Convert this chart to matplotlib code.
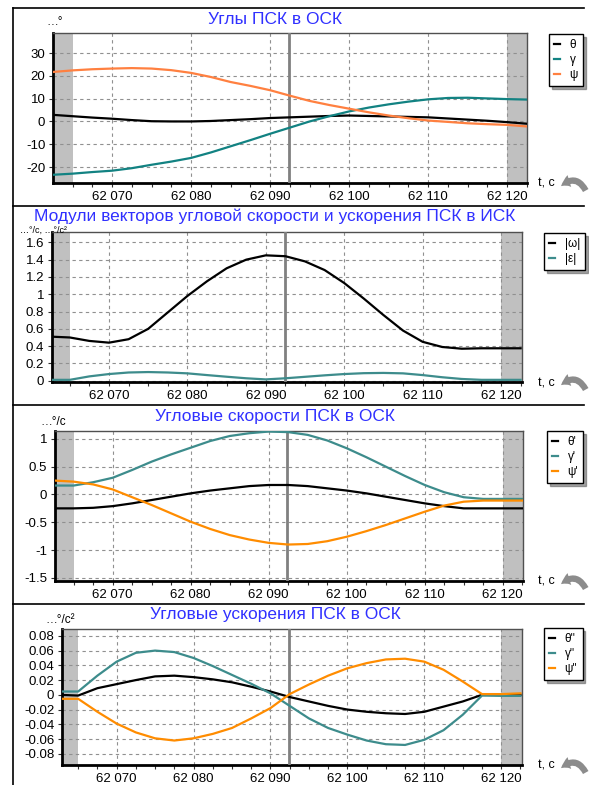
import numpy as np
import matplotlib
matplotlib.use("Agg")
import matplotlib.pyplot as plt
from matplotlib.ticker import FuncFormatter, MultipleLocator
from matplotlib.patches import FancyArrowPatch
from matplotlib.lines import Line2D

plt.rcParams['font.family'] = ['Liberation Sans', 'DejaVu Sans']

W, H = 589, 785
fig = plt.figure(figsize=(W / 100, H / 100), dpi=100)

# time grid (s)
t = [62062.5, 62065, 62067.5, 62070, 62072.5, 62075, 62077.5, 62080, 62082.5,
     62085, 62087.5, 62090, 62092.5, 62095, 62097.5, 62100, 62102.5, 62105,
     62107.5, 62110, 62112.5, 62115, 62117.5, 62120, 62122.5]
t_cursor = 62092.4
gray_left, gray_right = 62065, 62120

# angles, deg
theta = [2.9, 2.3, 1.7, 1.2, 0.6, 0.1, 0.0, 0.0, 0.2, 0.6, 1.0, 1.5, 1.8,
         2.1, 2.4, 2.6, 2.4, 2.2, 2.0, 1.8, 1.3, 0.8, 0.3, -0.3, -1.0]
gamma = [-23.4, -22.9, -22.2, -21.6, -20.5, -19.0, -17.6, -16.0, -13.6, -10.9,
         -8.2, -5.4, -2.7, 0.0, 2.3, 4.4, 6.1, 7.5, 8.7, 9.7, 10.3, 10.4, 10.1,
         9.8, 9.6]
psi = [21.7, 22.4, 22.9, 23.2, 23.4, 23.2, 22.5, 21.3, 19.5, 17.3, 15.6, 13.7,
       11.3, 9.0, 7.2, 5.6, 4.0, 2.6, 1.4, 0.4, -0.2, -0.8, -1.2, -1.5, -2.2]

# |omega|, |eps|
omega = [0.51, 0.50, 0.46, 0.44, 0.48, 0.60, 0.79, 0.98, 1.15, 1.30, 1.40,
         1.45, 1.44, 1.38, 1.28, 1.13, 0.95, 0.76, 0.58, 0.45, 0.39, 0.37,
         0.375, 0.375, 0.375]
eps = [0.01, 0.01, 0.05, 0.077, 0.095, 0.10, 0.095, 0.085, 0.065, 0.046,
       0.028, 0.015, 0.028, 0.045, 0.062, 0.077, 0.087, 0.09, 0.085, 0.065,
       0.04, 0.02, 0.01, 0.01, 0.01]

# angular rates, deg/s
theta_d = [-0.25, -0.25, -0.24, -0.21, -0.16, -0.10, -0.04, 0.02, 0.07, 0.11,
           0.15, 0.17, 0.17, 0.15, 0.11, 0.07, 0.02, -0.04, -0.10, -0.16,
           -0.21, -0.25, -0.25, -0.25, -0.25]
gamma_d = [0.16, 0.16, 0.22, 0.30, 0.44, 0.59, 0.72, 0.84, 0.96, 1.05, 1.10,
           1.13, 1.12, 1.07, 0.97, 0.83, 0.67, 0.50, 0.33, 0.17, 0.04, -0.05,
           -0.08, -0.08, -0.08]
psi_d = [0.25, 0.23, 0.18, 0.09, -0.05, -0.19, -0.34, -0.49, -0.62, -0.73,
         -0.81, -0.87, -0.90, -0.89, -0.84, -0.76, -0.66, -0.55, -0.43, -0.31,
         -0.20, -0.13, -0.11, -0.11, -0.11]

# angular accelerations, deg/s^2
theta_dd = [0.0, -0.001, 0.009, 0.0145, 0.02, 0.025, 0.026, 0.024, 0.021,
            0.017, 0.011, 0.0045, -0.003, -0.009, -0.015, -0.02, -0.023,
            -0.025, -0.026, -0.023, -0.016, -0.009, 0.0, 0.0, 0.0]
gamma_dd = [0.0045, 0.0045, 0.026, 0.045, 0.057, 0.060, 0.058, 0.050, 0.039,
            0.027, 0.015, 0.002, -0.015, -0.032, -0.045, -0.054, -0.062,
            -0.067, -0.068, -0.061, -0.048, -0.027, -0.001, -0.0014, -0.0014]
psi_dd = [-0.0054, -0.0054, -0.023, -0.039, -0.051, -0.059, -0.062, -0.059,
          -0.053, -0.045, -0.032, -0.018, 0.001, 0.014, 0.026, 0.036, 0.043,
          0.048, 0.049, 0.045, 0.034, 0.018, 0.001, 0.001, 0.002]

BLACK = '#000000'
TEAL1 = '#128282'
TEAL = '#3d8c8c'
ORANGE1 = '#ff8040'
ORANGE = '#ff8c00'
BLUE = '#3030ff'
GRAY = '#c0c0c0'


def px(x, y):
    return x / W, 1 - y / H


def make_axes(left, right, top, bottom):
    return fig.add_axes([left / W, 1 - bottom / H, (right - left) / W, (bottom - top) / H])


panels = [
    dict(box=(53, 527, 33, 183), xlim=(62062.53, 62122.5), ylim=(-27, 38.8),
         ystep=10, title='Углы ПСК в ОСК', title_y=19, ylab='…°', ylab_xy=(46, 22),
         ylab_size=8.5,
         series=[(theta, BLACK, 'θ'), (gamma, TEAL1, 'γ'), (psi, ORANGE1, 'ψ')],
         leg=(543, 28), bottom=183),
    dict(box=(52, 522, 232, 382), xlim=(62062.73, 62122.68), ylim=(-0.015, 1.72),
         ystep=0.2, title='Модули векторов угловой скорости и ускорения ПСК в ИСК',
         title_y=216, ylab='…°/c, …°/c²', ylab_xy=(20, 230), ylab_size=6.5,
         series=[(omega, BLACK, '|ω|'), (eps, TEAL, '|ε|')],
         leg=(538, 227), bottom=382),
    dict(box=(55, 523, 431, 581), xlim=(62062.6, 62122.6), ylim=(-1.555, 1.14),
         ystep=0.5, title='Угловые скорости ПСК в ОСК', title_y=416, ylab='…°/c',
         ylab_xy=(40, 422), ylab_size=8.5,
         series=[(theta_d, BLACK, "θ'"), (gamma_d, TEAL, "γ'"), (psi_d, ORANGE, "ψ'")],
         leg=(541, 425), bottom=581),
    dict(box=(62, 522, 629, 765), xlim=(62062.9, 62122.7), ylim=(-0.0952, 0.0893),
         ystep=0.02, title='Угловые ускорения ПСК в ОСК', title_y=614, ylab='…°/c²',
         ylab_xy=(45, 620), ylab_size=8.5,
         series=[(theta_dd, BLACK, "θ''"), (gamma_dd, TEAL, "γ''"), (psi_dd, ORANGE, "ψ''")],
         leg=(538, 622), bottom=765),
]

xfmt = FuncFormatter(lambda v, p: '{:d} {:03d}'.format(int(round(v)) // 1000, int(round(v)) % 1000))
yfmt = FuncFormatter(lambda v, p: '{:g}'.format(round(v, 4)))

for p in panels:
    l, r, tp, bt = p['box']
    ax = make_axes(l, r, tp, bt)
    ax.set_xlim(*p['xlim'])
    ax.set_ylim(*p['ylim'])
    ax.axvspan(p['xlim'][0], gray_left, color=GRAY, lw=0, zorder=0)
    ax.axvspan(gray_right, p['xlim'][1], color=GRAY, lw=0, zorder=0)
    ax.xaxis.set_major_locator(MultipleLocator(10))
    ax.xaxis.set_minor_locator(MultipleLocator(2.5))
    ax.yaxis.set_major_locator(MultipleLocator(p['ystep']))
    ax.xaxis.set_major_formatter(xfmt)
    ax.yaxis.set_major_formatter(yfmt)
    ax.grid(True, which='major', color='#909090', ls=(0, (3, 3)), lw=0.8, zorder=1)
    ax.tick_params(axis='both', which='both', labelsize=9.5, length=3, width=0.8,
                   colors='#303030', labelcolor='black', pad=2.5)
    for s in ('left', 'bottom'):
        ax.spines[s].set_linewidth(2)
        ax.spines[s].set_color('black')
    for s in ('top', 'right'):
        ax.spines[s].set_linewidth(1)
        ax.spines[s].set_color('#505050')
    ax.axvline(t_cursor, color='#808080', lw=2, zorder=3)
    handles = []
    for vals, col, lab in p['series']:
        ax.plot(t, vals, color=col, lw=1.6, zorder=4)
        handles.append(Line2D([], [], color=col, lw=1.6, label=lab))

    fig.text(*px(275, p['title_y']), p['title'], color=BLUE, fontsize=12.5,
             ha='center', va='center')
    fig.text(*px(*p['ylab_xy']), p['ylab'], fontsize=p['ylab_size'], ha='left', va='center')
    fig.text(*px(538, p['bottom'] + 1), 't, c', fontsize=9, ha='left', va='center')

    leg = fig.legend(handles=handles, loc='upper left', bbox_to_anchor=px(*p['leg']),
                     fontsize=8.5, handlelength=0.5, handletextpad=0.8, borderpad=0.45,
                     labelspacing=0.25, fancybox=False, shadow=True, frameon=True,
                     edgecolor='black', framealpha=1)
    leg.get_frame().set_linewidth(1)

    # curved gray arrow icon
    arr = FancyArrowPatch(px(587, p['bottom'] + 10), px(559, p['bottom'] + 5),
                          transform=fig.transFigure, connectionstyle='arc3,rad=0.7',
                          arrowstyle='simple,head_width=9,head_length=7,tail_width=4.5',
                          color='#8c8c8c', lw=0)
    fig.add_artist(arr)

# panel frames
fig.add_artist(Line2D([13 / W, 13 / W], [0, 1 - 8 / H], color='black', lw=1.2,
                      transform=fig.transFigure))
for y in (8, 206, 405, 604):
    fig.add_artist(Line2D([13 / W, 584 / W], [1 - y / H, 1 - y / H], color='black',
                          lw=1.2, transform=fig.transFigure))

fig.savefig('out.png', dpi=100)
